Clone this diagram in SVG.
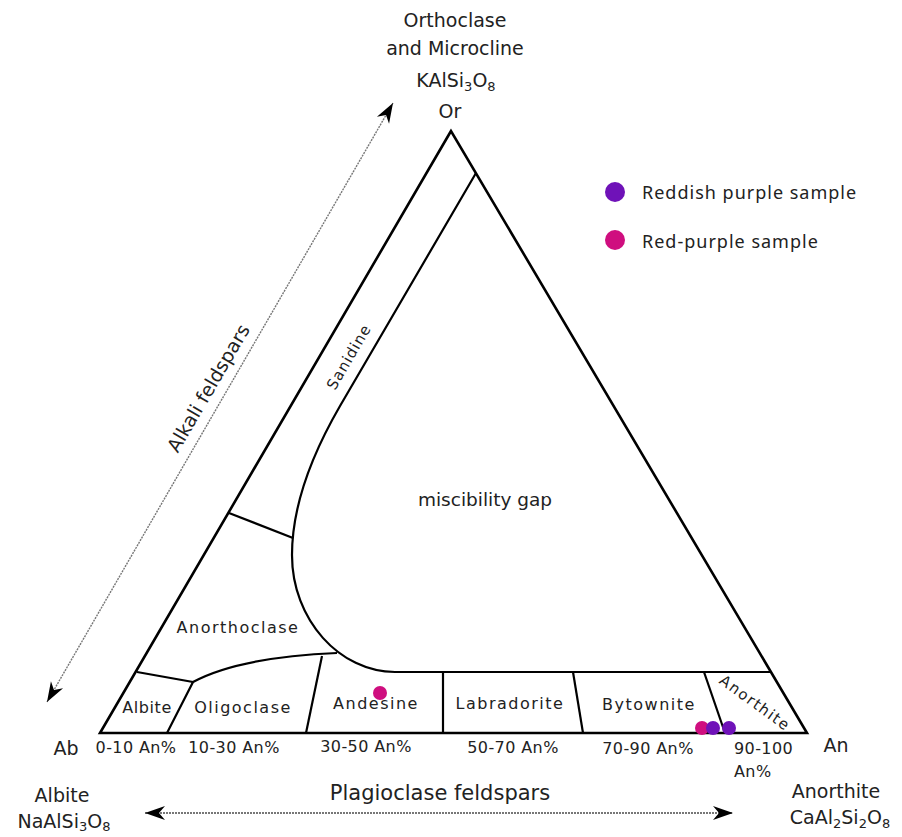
<svg xmlns="http://www.w3.org/2000/svg" width="902" height="837" viewBox="0 0 902 837">
<style>
text{font-family:"DejaVu Sans","Liberation Sans",sans-serif;fill:#222}
.big{font-size:19px}
.lab{font-size:16px;letter-spacing:1.5px}
.rng{font-size:16px;letter-spacing:0.4px}
.leg{font-size:18px;letter-spacing:1px;font-family:"Noto Sans","DejaVu Sans",sans-serif}
.edge{fill:none;stroke:#000;stroke-width:2.6;stroke-linejoin:miter}
.bnd{fill:none;stroke:#000;stroke-width:2.2}
.axis{fill:none;stroke:#777;stroke-width:1.4;stroke-dasharray:2 1}
.purple{fill:#6f12b8}
.magenta{fill:#cf0e7f}
</style>
<defs>
<marker id="ah" viewBox="-21 -8 22 16" markerWidth="22" markerHeight="16" refX="0" refY="0" orient="auto-start-reverse" markerUnits="userSpaceOnUse">
<path d="M0,0 L-20,-7 L-14,0 L-20,7 Z" fill="#000"/>
</marker>
</defs>
<rect width="902" height="837" fill="#fff"/>

<g id="triangle">
<path class="edge" d="M451,131 L100,733 L807,733 Z"/>
</g>

<g id="boundaries">
<path class="bnd" d="M476,173 L340,406 C318,444 292,500 292,555 C292,620 340,672 395,672 L771,672"/>
<path class="bnd" d="M229,513 L293,538"/>
<path class="bnd" d="M193,682 C230,662 290,655 337,653"/>
<path class="bnd" d="M137,672 L193,682 L167,733"/>
<path class="bnd" d="M322,656 L306,733"/>
<path class="bnd" d="M443,672 L443,733"/>
<path class="bnd" d="M573,672 L583,733"/>
<path class="bnd" d="M704,672 L725,733"/>
</g>

<g id="connectors">
<line class="axis" x1="47" y1="702" x2="393" y2="103" marker-start="url(#ah)" marker-end="url(#ah)"/>
<line class="axis" x1="145" y1="813" x2="733" y2="813" marker-start="url(#ah)" marker-end="url(#ah)" style="stroke-width:2"/>
</g>

<g id="node-or">
<text class="big" x="455" y="27" text-anchor="middle">Orthoclase</text>
<text class="big" x="455" y="55" text-anchor="middle">and Microcline</text>
<text class="big" x="456" y="87" text-anchor="middle">KAlSi<tspan font-size="13" dy="4">3</tspan><tspan dy="-4">O</tspan><tspan font-size="13" dy="4">8</tspan></text>
<text class="big" x="450" y="118" text-anchor="middle">Or</text>
</g>

<g id="node-ab">
<text class="big" x="66" y="755" text-anchor="middle">Ab</text>
<text class="big" x="62" y="802" text-anchor="middle">Albite</text>
<text class="big" x="64" y="828" text-anchor="middle">NaAlSi<tspan font-size="13" dy="3">3</tspan><tspan dy="-3">O</tspan><tspan font-size="13" dy="3">8</tspan></text>
</g>

<g id="node-an">
<text class="big" x="836" y="752" text-anchor="middle">An</text>
<text class="big" x="836" y="798" text-anchor="middle">Anorthite</text>
<text class="big" x="840" y="824" text-anchor="middle">CaAl<tspan font-size="13" dy="4">2</tspan><tspan dy="-4">Si</tspan><tspan font-size="13" dy="4">2</tspan><tspan dy="-4">O</tspan><tspan font-size="13" dy="4">8</tspan></text>
</g>

<g id="axis-labels">
<text transform="translate(208,388) rotate(-59.7)" x="0" y="7" text-anchor="middle" font-size="19">Alkali feldspars</text>
<text x="440" y="800" text-anchor="middle" font-size="21">Plagioclase feldspars</text>
</g>

<g id="regions">
<text x="485" y="506" text-anchor="middle" font-size="18.5">miscibility gap</text>
<text class="lab" transform="translate(349,357) rotate(-59.7)" x="0" y="5" text-anchor="middle" style="font-size:15px;letter-spacing:1px">Sanidine</text>
<text class="lab" x="238" y="633" text-anchor="middle">Anorthoclase</text>
<text class="lab" x="147" y="713" text-anchor="middle" style="letter-spacing:0.6px">Albite</text>
<text class="lab" x="243" y="713" text-anchor="middle">Oligoclase</text>
<text class="lab" x="376" y="709" text-anchor="middle">Andesine</text>
<text class="lab" x="510" y="709" text-anchor="middle">Labradorite</text>
<text class="lab" x="649" y="710" text-anchor="middle">Bytownite</text>
<text class="lab" transform="translate(755,703) rotate(36)" x="0" y="5" text-anchor="middle" style="font-size:15px;letter-spacing:1.5px">Anorthite</text>
</g>

<g id="ranges">
<text class="rng" x="136" y="753" text-anchor="middle">0-10 An%</text>
<text class="rng" x="234" y="753" text-anchor="middle">10-30 An%</text>
<text class="rng" x="366" y="752" text-anchor="middle">30-50 An%</text>
<text class="rng" x="513" y="753" text-anchor="middle">50-70 An%</text>
<text class="rng" x="648" y="754" text-anchor="middle">70-90 An%</text>
<text class="rng" x="734" y="754">90-100</text>
<text class="rng" x="734" y="777">An%</text>
</g>

<g id="samples">
<circle class="magenta" cx="380" cy="693" r="7"/>
<circle class="magenta" cx="702" cy="728" r="7"/>
<circle class="purple" cx="713" cy="728" r="7"/>
<circle class="purple" cx="729" cy="728" r="7"/>
</g>

<g id="legend">
<circle class="purple" cx="615" cy="192" r="10"/>
<text class="leg" x="642" y="199">Reddish purple sample</text>
<circle class="magenta" cx="615" cy="240" r="10"/>
<text class="leg" x="642" y="248">Red-purple sample</text>
</g>
</svg>
